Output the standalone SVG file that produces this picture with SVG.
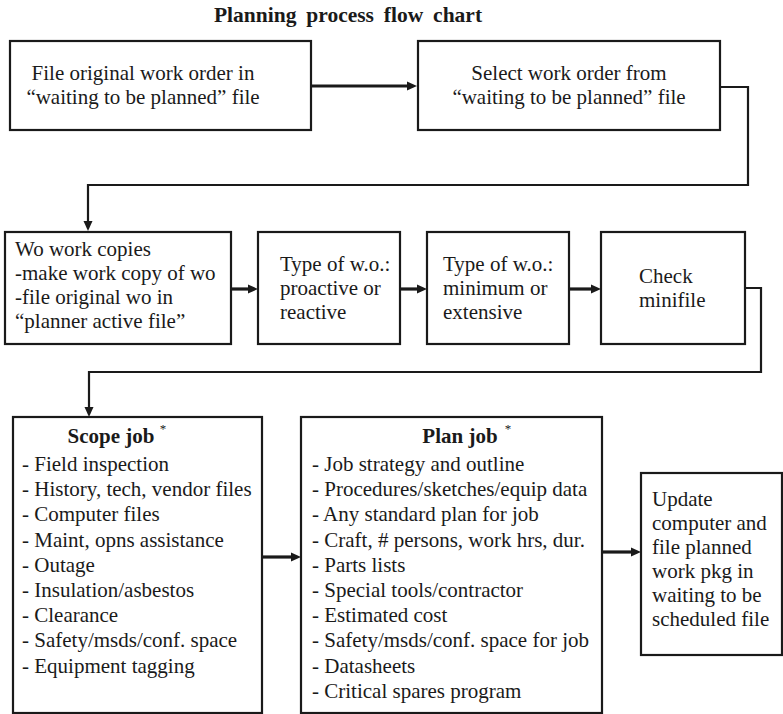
<svg xmlns="http://www.w3.org/2000/svg" width="783" height="714" viewBox="0 0 783 714">
  <style>
    .box { fill: #ffffff; stroke: #1a1a1a; stroke-width: 2.2; }
    .txt { font-family: "Liberation Serif", "Times New Roman", serif; font-size: 21px; fill: #1a1a1a; }
    .bold { font-weight: bold; }
    .title { font-size: 21.5px; word-spacing: 4.5px; }
    .sup { font-family: "Liberation Serif", "Times New Roman", serif; font-size: 13px; fill: #1a1a1a; }
    .flow { fill: none; stroke: #1a1a1a; stroke-width: 3.2; }
    .link { fill: none; stroke: #1a1a1a; stroke-width: 2.2; }
  </style>
  <defs>
    <marker id="head" viewBox="0 0 10 10" refX="3" refY="5" markerWidth="10" markerHeight="10" markerUnits="userSpaceOnUse" orient="auto">
      <path d="M0,0.5 L10,5 L0,9.5 z" fill="#1a1a1a"/>
    </marker>
  </defs>

  <rect width="783" height="714" fill="#ffffff"/>

  <text id="title" class="txt bold title" x="348" y="22" text-anchor="middle">Planning process flow chart</text>

  <!-- connectors -->
  <g id="connectors">
    <path class="flow" d="M311,86 H410" marker-end="url(#head)"/>
    <path class="link" d="M720,87 H748 V185 H88 V224" marker-end="url(#head)"/>
    <path class="flow" d="M231,289 H251" marker-end="url(#head)"/>
    <path class="flow" d="M400,289 H420" marker-end="url(#head)"/>
    <path class="flow" d="M569,289 H594" marker-end="url(#head)"/>
    <path class="link" d="M745,288 H761 V372 H89 V410" marker-end="url(#head)"/>
    <path class="flow" d="M262,557 H294" marker-end="url(#head)"/>
    <path class="flow" d="M602,552 H634" marker-end="url(#head)"/>
  </g>

  <!-- first row -->
  <g id="file-original">
    <rect class="box" x="10" y="41" width="301" height="89"/>
    <text class="txt" x="143" y="80" text-anchor="middle">File original work order in</text>
    <text class="txt" x="143" y="104" text-anchor="middle">“waiting to be planned” file</text>
  </g>
  <g id="select-order">
    <rect class="box" x="418" y="41" width="302" height="89"/>
    <text class="txt" x="569" y="80" text-anchor="middle">Select work order from</text>
    <text class="txt" x="569" y="104" text-anchor="middle">“waiting to be planned” file</text>
  </g>

  <!-- second row -->
  <g id="work-copies">
    <rect class="box" x="5" y="232" width="226" height="112"/>
    <text class="txt" x="15" y="256">Wo work copies</text>
    <text class="txt" x="15" y="280">-make work copy of wo</text>
    <text class="txt" x="15" y="304">-file original wo in</text>
    <text class="txt" x="15" y="328">“planner active file”</text>
  </g>
  <g id="type-proactive">
    <rect class="box" x="258" y="232" width="142" height="112"/>
    <text class="txt" x="280" y="271">Type of w.o.:</text>
    <text class="txt" x="280" y="295">proactive or</text>
    <text class="txt" x="280" y="319">reactive</text>
  </g>
  <g id="type-extent">
    <rect class="box" x="427" y="232" width="142" height="112"/>
    <text class="txt" x="443" y="271">Type of w.o.:</text>
    <text class="txt" x="443" y="295">minimum or</text>
    <text class="txt" x="443" y="319">extensive</text>
  </g>
  <g id="check-minifile">
    <rect class="box" x="601" y="232" width="144" height="112"/>
    <text class="txt" x="639" y="283">Check</text>
    <text class="txt" x="639" y="307">minifile</text>
  </g>

  <!-- third row -->
  <g id="scope-job">
    <rect class="box" x="13" y="417" width="249" height="296"/>
    <text class="txt bold" x="111" y="443" text-anchor="middle">Scope job</text>
    <text class="sup" x="163" y="433" text-anchor="middle">*</text>
    <text class="txt" x="22" y="471">- Field inspection</text>
    <text class="txt" x="22" y="496">- History, tech, vendor files</text>
    <text class="txt" x="22" y="521">- Computer files</text>
    <text class="txt" x="22" y="547">- Maint, opns assistance</text>
    <text class="txt" x="22" y="572">- Outage</text>
    <text class="txt" x="22" y="597">- Insulation/asbestos</text>
    <text class="txt" x="22" y="622">- Clearance</text>
    <text class="txt" x="22" y="647">- Safety/msds/conf. space</text>
    <text class="txt" x="22" y="673">- Equipment tagging</text>
  </g>
  <g id="plan-job">
    <rect class="box" x="301" y="417" width="301" height="296"/>
    <text class="txt bold" x="460" y="443" text-anchor="middle">Plan job</text>
    <text class="sup" x="508" y="433" text-anchor="middle">*</text>
    <text class="txt" x="312" y="471">- Job strategy and outline</text>
    <text class="txt" x="312" y="496">- Procedures/sketches/equip data</text>
    <text class="txt" x="312" y="521">- Any standard plan for job</text>
    <text class="txt" x="312" y="547">- Craft, # persons, work hrs, dur.</text>
    <text class="txt" x="312" y="572">- Parts lists</text>
    <text class="txt" x="312" y="597">- Special tools/contractor</text>
    <text class="txt" x="312" y="622">- Estimated cost</text>
    <text class="txt" x="312" y="647">- Safety/msds/conf. space for job</text>
    <text class="txt" x="312" y="673">- Datasheets</text>
    <text class="txt" x="312" y="698">- Critical spares program</text>
  </g>
  <g id="update-file">
    <rect class="box" x="641" y="473" width="141" height="182"/>
    <text class="txt" x="652" y="506">Update</text>
    <text class="txt" x="652" y="530">computer and</text>
    <text class="txt" x="652" y="554">file planned</text>
    <text class="txt" x="652" y="578">work pkg in</text>
    <text class="txt" x="652" y="602">waiting to be</text>
    <text class="txt" x="652" y="626">scheduled file</text>
  </g>
</svg>
